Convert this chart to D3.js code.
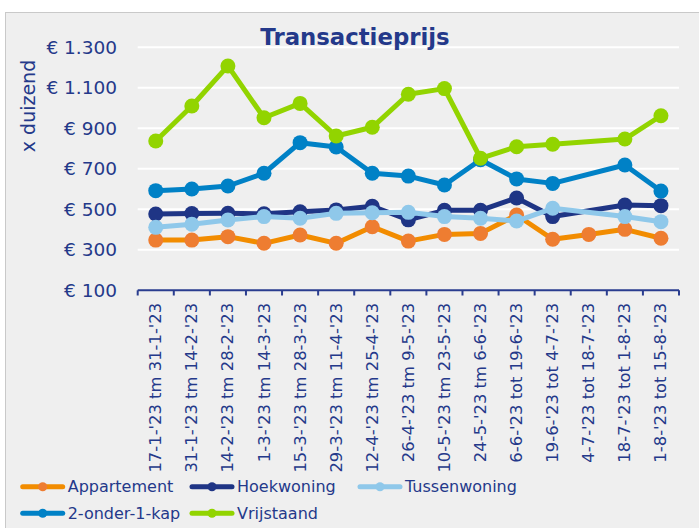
<!DOCTYPE html>
<html>
<head>
<meta charset="utf-8">
<script src="https://cdn.jsdelivr.net/npm/d3@7"></script>
<style>
  html, body { margin: 0; padding: 0; background: #ffffff; }
  svg { display: block; }
  text { font-family: "DejaVu Sans", sans-serif; fill: #24398a; }
</style>
</head>
<body>
<div id="chart"></div>
<script>
// Periods (two-week windows)
const categories = [
  "17-1-'23 tm 31-1-'23", "31-1-'23 tm 14-2-'23", "14-2-'23 tm 28-2-'23",
  "1-3-'23 tm 14-3-'23", "15-3-'23 tm 28-3-'23", "29-3-'23 tm 11-4-'23",
  "12-4-'23 tm 25-4-'23", "26-4-'23 tm 9-5-'23", "10-5-'23 tm 23-5-'23",
  "24-5-'23 tm 6-6-'23", "6-6-'23 tot 19-6-'23", "19-6-'23 tot 4-7-'23",
  "4-7-'23 tot 18-7-'23", "18-7-'23 tot 1-8-'23", "1-8-'23 tot 15-8-'23"
];

// Average transaction price per type (x 1000 euro); null = no data
const appartement  = [348, 348, 365, 332, 373, 332, 414, 343, 376, 381, 472, 352, 376, 401, 357];
const hoekwoning   = [477, 479, 480, 478, 488, 497, 515, 448, 495, 495, 556, 464, null, 521, 518];
const tussenwoning = [411, 426, 447, 464, 456, 480, 483, 485, 464, 456, 442, 505, null, 464, 439];
const tweeOnder1Kap = [592, 600, 615, 678, 829, 808, 678, 664, 620, 745, 650, 628, null, 719, 590];
const vrijstaand   = [837, 1010, 1208, 952, 1023, 862, 905, 1068, 1096, 752, 809, 821, null, 847, 962];

const seriesNames = ["Appartement", "Hoekwoning", "Tussenwoning", "2-onder-1-kap", "Vrijstaand"];
const seriesValues = [appartement, hoekwoning, tussenwoning, tweeOnder1Kap, vrijstaand];
const lineColors   = ["#f28c00", "#1f3585", "#8fc8ea", "#0081c6", "#92d400"];
const markerColors = ["#ee7d31", "#1f3585", "#8fc8ea", "#0081c6", "#92d400"];

const yTicks = [100, 300, 500, 700, 900, 1100, 1300];
const yTickLabels = ["€ 100", "€ 300", "€ 500", "€ 700", "€ 900", "€ 1.100", "€ 1.300"];

const W = 699, H = 528;
const svg = d3.select("#chart").append("svg").attr("width", W).attr("height", H);

// chart area background with border
svg.append("rect").attr("x", 5.5).attr("y", 12.5).attr("width", W).attr("height", H)
  .attr("fill", "#efefef").attr("stroke", "#c9c9c9").attr("stroke-width", 1);

const x = d3.scaleBand().domain(categories).range([137.7, 679]);
const y = d3.scaleLinear().domain([100, 1300]).range([290.3, 47.3]);

// gridlines
svg.append("g").selectAll("line").data(yTicks.filter(d => d > 100)).join("line")
  .attr("x1", 137.7).attr("x2", 679)
  .attr("y1", d => y(d)).attr("y2", d => y(d))
  .attr("stroke", "#ffffff").attr("stroke-width", 2);

// y axis labels
const yAxis = d3.axisLeft(y).tickValues(yTicks).tickSize(0).tickPadding(0)
  .tickFormat((d, i) => yTickLabels[i]);
const gy = svg.append("g").attr("transform", "translate(117,0)").call(yAxis);
gy.select(".domain").remove();
gy.selectAll("text").attr("font-size", "18.5px").attr("fill", "#24398a")
  .attr("font-family", "DejaVu Sans, sans-serif");

// y axis title
svg.append("text").attr("transform", "translate(35,106) rotate(-90)")
  .attr("text-anchor", "middle").attr("font-size", "19px").text("x duizend");

// x axis
const xAxis = d3.axisBottom(x).tickSize(0).tickPadding(0);
const gx = svg.append("g").attr("transform", "translate(0,290.3)").call(xAxis);
gx.select(".domain").remove();
gx.selectAll("text")
  .attr("font-size", "16.4px").attr("fill", "#24398a")
  .attr("font-family", "DejaVu Sans, sans-serif")
  .attr("text-anchor", "end").attr("dy", null).attr("y", 0)
  .attr("transform", "translate(0,12.5) rotate(-90)")
  .attr("dominant-baseline", "central");

// axis line and boundary ticks
svg.append("line").attr("x1", 137.7).attr("x2", 679).attr("y1", 290.3).attr("y2", 290.3)
  .attr("stroke", "#2a3d8f").attr("stroke-width", 2);
const bounds = categories.map(c => x(c)).concat([679]);
svg.append("g").selectAll("line").data(bounds).join("line")
  .attr("x1", d => d).attr("x2", d => d).attr("y1", 290.3).attr("y2", 295.5)
  .attr("stroke", "#2a3d8f").attr("stroke-width", 2);

// series
const cx = i => x(categories[i]) + x.bandwidth() / 2;
const line = d3.line().x(d => cx(d.i)).y(d => y(d.v));
seriesValues.forEach((vals, s) => {
  const pts = vals.map((v, i) => ({ i, v })).filter(d => d.v !== null);
  const g = svg.append("g");
  g.append("path").datum(pts).attr("d", line).attr("fill", "none")
    .attr("stroke", lineColors[s]).attr("stroke-width", 5)
    .attr("stroke-linejoin", "round").attr("stroke-linecap", "round");
  g.selectAll("circle").data(pts).join("circle")
    .attr("cx", d => cx(d.i)).attr("cy", d => y(d.v)).attr("r", 7.5)
    .attr("fill", markerColors[s]);
});

// title
svg.append("text").attr("x", 355).attr("y", 45).attr("text-anchor", "middle")
  .attr("font-size", "22.8px").attr("font-weight", "bold").attr("fill", "#1f3684")
  .text("Transactieprijs");

// legend
const legendPos = [[22.7, 486.7], [192, 486.7], [360, 486.7], [22.7, 513.3], [192, 513.3]];
const lg = svg.append("g");
seriesNames.forEach((name, s) => {
  const [lx, ly] = legendPos[s];
  lg.append("line").attr("x1", lx).attr("x2", lx + 40).attr("y1", ly).attr("y2", ly)
    .attr("stroke", lineColors[s]).attr("stroke-width", 5).attr("stroke-linecap", "round");
  lg.append("circle").attr("cx", lx + 20).attr("cy", ly).attr("r", 4.5).attr("fill", markerColors[s]);
  lg.append("text").attr("x", lx + 45).attr("y", ly).attr("dy", "0.36em")
    .attr("font-size", "16px").text(name);
});
</script>
</body>
</html>
